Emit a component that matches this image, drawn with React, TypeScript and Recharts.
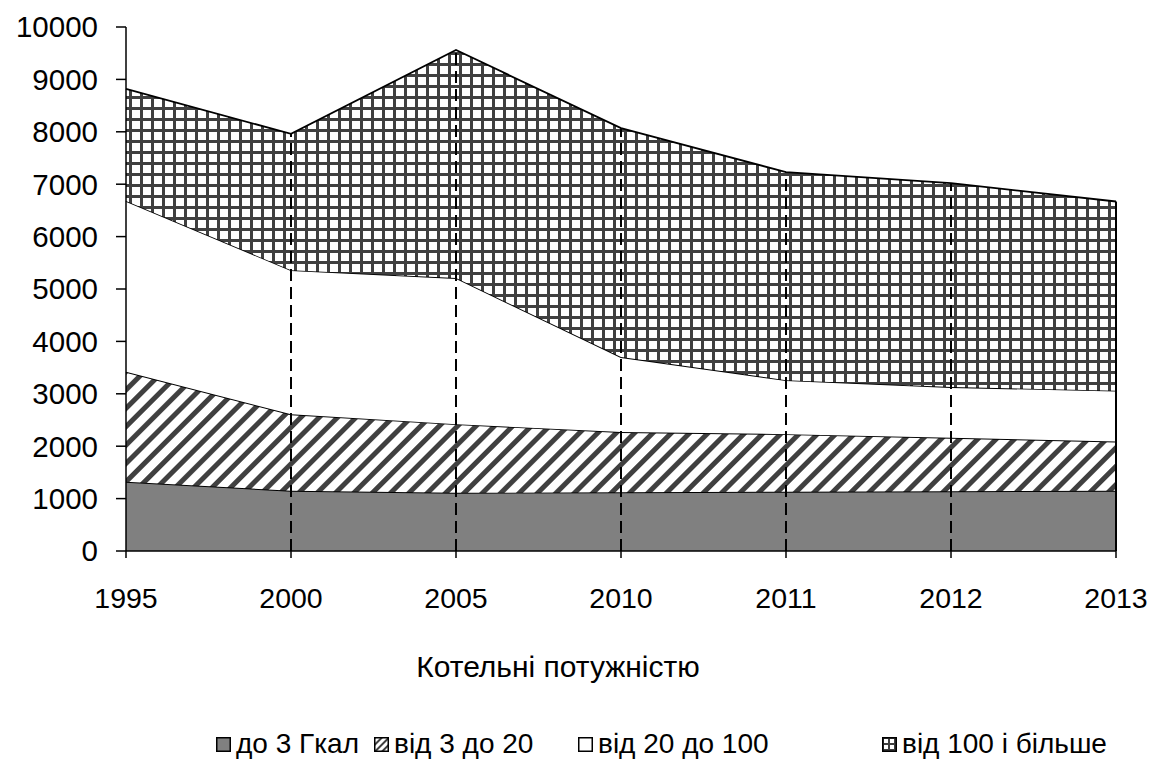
import { AreaChart, Area, XAxis, YAxis, ReferenceLine } from "recharts";

// categories and values
const years = ["1995", "2000", "2005", "2010", "2011", "2012", "2013"];
const upTo3 = [1320, 1150, 1110, 1120, 1130, 1140, 1150];
const from3to20 = [2100, 1460, 1310, 1150, 1100, 1020, 940];
const from20to100 = [3260, 2750, 2790, 1430, 1030, 970, 970];
const from100 = [2140, 2600, 4350, 4370, 3970, 3890, 3610];
const yTicks = [0, 1000, 2000, 3000, 4000, 5000, 6000, 7000, 8000, 9000, 10000];

const seriesNames = ["до 3 Гкал", "від 3 до 20", "від 20 до 100", "від 100 і більше"];

const data = years.map((year, i) => ({
  year,
  a: upTo3[i],
  b: from3to20[i],
  c: from20to100[i],
  d: from100[i],
  total: upTo3[i] + from3to20[i] + from20to100[i] + from100[i],
}));

const FONT = '"Liberation Sans", Arial, sans-serif';
const fills = ["#808080", "url(#stripes)", "#ffffff", "url(#grid)"];

const Patterns = () => (
  <svg width={0} height={0} style={{ position: "absolute" }}>
    <defs>
      <pattern id="stripes" width={13} height={13} patternUnits="userSpaceOnUse" patternTransform="rotate(45)">
        <rect width={13} height={13} fill="#fff" />
        <rect x={0} y={0} width={5} height={13} fill="#404040" />
      </pattern>
      <pattern id="grid" width={11} height={11} patternUnits="userSpaceOnUse">
        <rect width={11} height={11} fill="#fff" />
        <rect x={0} y={0} width={3} height={11} fill="#404040" />
        <rect x={0} y={0} width={11} height={3} fill="#404040" />
      </pattern>
      <pattern id="stripesSmall" width={5} height={5} patternUnits="userSpaceOnUse" patternTransform="rotate(45)">
        <rect width={5} height={5} fill="#fff" />
        <rect x={0} y={0} width={2} height={5} fill="#404040" />
      </pattern>
      <pattern id="gridSmall" width={6} height={6} patternUnits="userSpaceOnUse">
        <rect width={6} height={6} fill="#fff" />
        <rect x={0} y={0} width={2} height={6} fill="#404040" />
        <rect x={0} y={0} width={6} height={2} fill="#404040" />
      </pattern>
    </defs>
  </svg>
);

const legendFills = ["#808080", "url(#stripesSmall)", "#ffffff", "url(#gridSmall)"];
const legendLeft = [208, 366, 570, 874];

export default function App() {
  return (
    <div style={{ position: "relative", width: 1147, height: 757, fontFamily: FONT }}>
      <Patterns />
      <AreaChart width={1147} height={757} data={data} margin={{ top: 19, right: 39, left: 0, bottom: 154 }}>
        <XAxis
          dataKey="year"
          height={60}
          tick={{ fontSize: 28.5, fill: "#000", fontFamily: FONT }}
          tickSize={7}
          tickMargin={30}
          axisLine={{ stroke: "#000", strokeWidth: 1.5 }}
          tickLine={{ stroke: "#000", strokeWidth: 1.5 }}
        />
        <YAxis
          width={118}
          domain={[0, 10000]}
          ticks={yTicks}
          interval={0}
          tick={{ fontSize: 29.5, fill: "#000", fontFamily: FONT }}
          tickSize={10}
          tickMargin={18}
          axisLine={{ stroke: "#000", strokeWidth: 1.5 }}
          tickLine={{ stroke: "#000", strokeWidth: 1.5 }}
        />
        {["a", "b", "c", "d"].map((k, i) => (
          <Area
            key={k}
            type="linear"
            dataKey={k}
            name={seriesNames[i]}
            stackId="1"
            stroke="#000"
            strokeWidth={1.8}
            fill={fills[i]}
            fillOpacity={1}
            isAnimationActive={false}
          />
        ))}
        {data.slice(1).map((d, i) => (
          <ReferenceLine
            key={d.year}
            segment={[
              { x: d.year, y: 0 },
              { x: d.year, y: d.total },
            ]}
            stroke="#000"
            strokeWidth={2}
            strokeDasharray={i === data.length - 2 ? undefined : "12 6"}
          />
        ))}
      </AreaChart>
      <div
        style={{
          position: "absolute",
          left: 550,
          top: 642,
          transform: "translateX(-50%)",
          fontSize: 30,
          lineHeight: "34px",
          whiteSpace: "nowrap",
        }}
      >
        Котельні потужністю
      </div>
      {seriesNames.map((name, i) => (
        <div
          key={name}
          style={{
            position: "absolute",
            left: legendLeft[i],
            top: 719,
            height: 34,
            display: "flex",
            alignItems: "center",
            fontSize: 28,
            whiteSpace: "nowrap",
          }}
        >
          <svg width={15} height={15} style={{ marginRight: 5 }}>
            <rect x={0.75} y={0.75} width={13.5} height={13.5} fill={legendFills[i]} stroke="#000" strokeWidth={1.5} />
          </svg>
          {name}
        </div>
      ))}
    </div>
  );
}
